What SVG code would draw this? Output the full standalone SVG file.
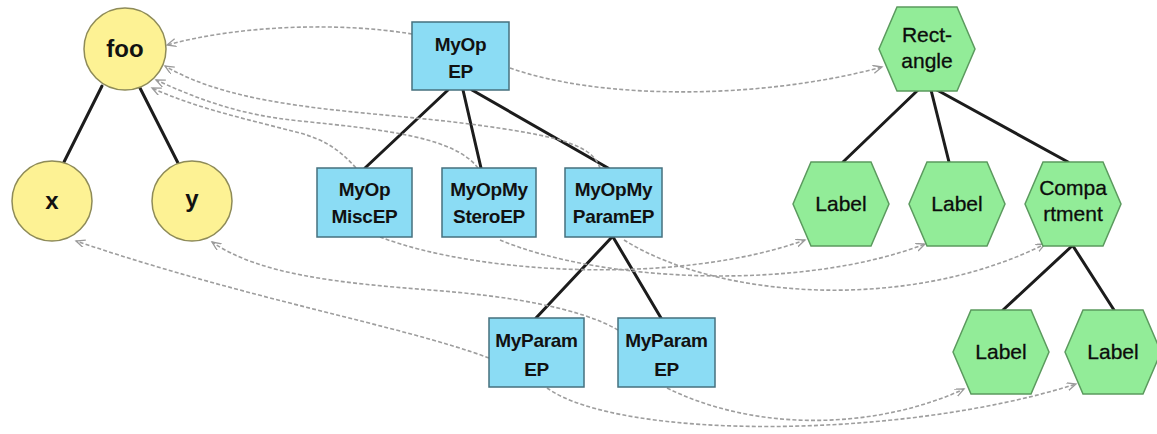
<svg xmlns="http://www.w3.org/2000/svg" width="1157" height="434" viewBox="0 0 1157 434">
  <style>
    .edge { stroke: #1c1c1c; stroke-width: 3; fill: none; stroke-linecap: round; }
    .ref { stroke: #9e9e9e; stroke-width: 1.6; fill: none; stroke-dasharray: 4 2.2; marker-end: url(#open); }
    .circ { fill: #fdf294; stroke: #8e8b58; stroke-width: 1.5; }
    .box { fill: #8bdcf4; stroke: #46707e; stroke-width: 1.5; }
    .hex { fill: #92ec98; stroke: #5b9a5e; stroke-width: 1.5; }
    .ct { font-family: "Liberation Sans", Arial, sans-serif; font-weight: bold; font-size: 24px; fill: #111; text-anchor: middle; }
    .bt { font-family: "Liberation Sans", Arial, sans-serif; font-weight: bold; font-size: 19px; fill: #111; text-anchor: middle; letter-spacing: -0.3px; }
    .ht { font-family: "Liberation Sans", Arial, sans-serif; font-size: 21px; fill: #0c0c0c; text-anchor: middle; stroke: #0c0c0c; stroke-width: 0.3; }
  </style>
  <defs>
    <marker id="open" markerWidth="12" markerHeight="10" refX="9" refY="4" orient="auto" markerUnits="userSpaceOnUse">
      <path d="M0,0 L9,4 L0,8" fill="none" stroke="#9a9a9a" stroke-width="1.3"/>
    </marker>
    <polygon id="hexShape" points="-48,0 -30,-42 30,-42 48,0 30,42 -30,42"/>
  </defs>
  <rect width="1157" height="434" fill="#ffffff"/>

  <g id="connectors">
    <!-- containment edges -->
    <line class="edge" x1="102" y1="86" x2="64" y2="162"/>
    <line class="edge" x1="140" y1="88" x2="178" y2="163"/>
    <line class="edge" x1="448" y1="90" x2="365" y2="168"/>
    <line class="edge" x1="463" y1="90" x2="481" y2="168"/>
    <line class="edge" x1="472" y1="90" x2="608" y2="168"/>
    <line class="edge" x1="612" y1="237" x2="536" y2="318"/>
    <line class="edge" x1="613" y1="237" x2="661" y2="318"/>
    <line class="edge" x1="918" y1="90" x2="843" y2="162"/>
    <line class="edge" x1="931" y1="90" x2="949" y2="162"/>
    <line class="edge" x1="937" y1="90" x2="1068" y2="162"/>
    <line class="edge" x1="1072" y1="246" x2="1003" y2="310"/>
    <line class="edge" x1="1073" y1="246" x2="1114" y2="310"/>

    <!-- references to the semantic element -->
    <path class="ref" d="M412,34 C340,22 240,25 167,45"/>
    <path class="ref" d="M600,168 C592,145 560,136 470,124 C360,110 240,110 165,66"/>
    <path class="ref" d="M478,168 C455,138 390,130 300,121 C240,115 200,100 156,80"/>
    <path class="ref" d="M356,168 C340,150 325,140 300,133 C250,120 195,108 152,88"/>
    <path class="ref" d="M489,358 C400,325 250,300 76,241"/>
    <path class="ref" d="M618,330 C580,308 510,296 430,290 C340,283 260,275 212,242"/>

    <!-- references to the figures -->
    <path class="ref" d="M510,68 C600,100 760,100 882,67"/>
    <path class="ref" d="M380,237 C480,275 680,285 805,240"/>
    <path class="ref" d="M500,240 C600,282 800,292 925,244"/>
    <path class="ref" d="M624,240 C720,300 910,312 1045,244"/>
    <path class="ref" d="M667,388 C760,434 880,428 964,389"/>
    <path class="ref" d="M547,388 C620,440 900,440 1076,384"/>
  </g>

  <!-- semantic model -->
  <g id="node-foo">
    <circle class="circ" cx="125" cy="49" r="41"/>
    <text class="ct" x="125" y="57">foo</text>
  </g>
  <g id="node-x">
    <circle class="circ" cx="52" cy="201" r="40"/>
    <text class="ct" x="52" y="209">x</text>
  </g>
  <g id="node-y">
    <circle class="circ" cx="192" cy="201" r="40"/>
    <text class="ct" x="192" y="207">y</text>
  </g>

  <!-- edit parts -->
  <g id="node-myopep">
    <rect class="box" x="412" y="22" width="97" height="68"/>
    <text class="bt" x="460.5" y="51">MyOp</text>
    <text class="bt" x="460.5" y="78">EP</text>
  </g>
  <g id="node-myopmiscep">
    <rect class="box" x="317" y="168" width="95" height="69"/>
    <text class="bt" x="364.5" y="196">MyOp</text>
    <text class="bt" x="364.5" y="223">MiscEP</text>
  </g>
  <g id="node-myopmystereoep">
    <rect class="box" x="442" y="168" width="94" height="69"/>
    <text class="bt" x="489" y="196">MyOpMy</text>
    <text class="bt" x="489" y="223">SteroEP</text>
  </g>
  <g id="node-myopmyparamep">
    <rect class="box" x="565" y="168" width="97" height="69"/>
    <text class="bt" x="613.5" y="196">MyOpMy</text>
    <text class="bt" x="613.5" y="223">ParamEP</text>
  </g>
  <g id="node-myparamep-1">
    <rect class="box" x="489" y="318" width="95" height="69"/>
    <text class="bt" x="536.5" y="347">MyParam</text>
    <text class="bt" x="536.5" y="376">EP</text>
  </g>
  <g id="node-myparamep-2">
    <rect class="box" x="618" y="318" width="97" height="69"/>
    <text class="bt" x="666.5" y="347">MyParam</text>
    <text class="bt" x="666.5" y="376">EP</text>
  </g>

  <!-- figures -->
  <g id="node-rectangle">
    <use href="#hexShape" class="hex" x="927" y="49"/>
    <text class="ht" x="927" y="42">Rect-</text>
    <text class="ht" x="927" y="68">angle</text>
  </g>
  <g id="node-label-1">
    <use href="#hexShape" class="hex" x="841" y="204"/>
    <text class="ht" x="841" y="211">Label</text>
  </g>
  <g id="node-label-2">
    <use href="#hexShape" class="hex" x="957" y="204"/>
    <text class="ht" x="957" y="211">Label</text>
  </g>
  <g id="node-compartment">
    <use href="#hexShape" class="hex" x="1073" y="204"/>
    <text class="ht" x="1073" y="195">Compa</text>
    <text class="ht" x="1073" y="221">rtment</text>
  </g>
  <g id="node-label-3">
    <use href="#hexShape" class="hex" x="1001" y="352"/>
    <text class="ht" x="1001" y="359">Label</text>
  </g>
  <g id="node-label-4">
    <use href="#hexShape" class="hex" x="1113" y="352"/>
    <text class="ht" x="1113" y="359">Label</text>
  </g>
</svg>
